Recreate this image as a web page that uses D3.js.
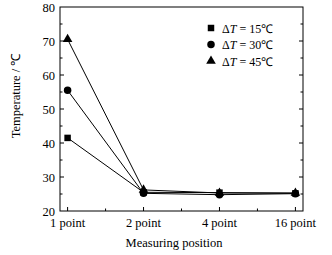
<!DOCTYPE html>
<html lang="en">
<head>
<meta charset="UTF-8">
<title>Temperature vs measuring position</title>
<script src="https://d3js.org/d3.v7.min.js"></script>
<style>
  body { margin: 0; background: #fff; }
  svg { display: block; font-family: "Liberation Serif", "Times New Roman", serif; }
</style>
</head>
<body>
<svg id="chart" width="332" height="255"></svg>
<script>
// data
const positions = ["1 point", "2 point", "4 point", "16 point"];
const dT15 = [41.5, 25.5, 25.4, 25.2];
const dT30 = [55.5, 25.2, 24.8, 25.1];
const dT45 = [70.5, 26.2, 25.3, 25.3];
const yTicks = [20, 30, 40, 50, 60, 70, 80];
const seriesNames = ["15", "30", "45"];

const svg = d3.select("#chart");
const plotL = 60, plotR = 303, plotT = 7, plotB = 211;

const x = d3.scalePoint().domain(positions).range([plotL, plotR]).padding(0.1);
const y = d3.scaleLinear().domain([20, 80]).range([plotB, plotT]);

// frame
svg.append("rect")
   .attr("x", plotL).attr("y", plotT)
   .attr("width", plotR - plotL).attr("height", plotB - plotT)
   .attr("fill", "none").attr("stroke", "#000").attr("stroke-width", 1);

// y ticks, left and right, inward, minor every 5
const minorY = d3.range(25, 80, 10);
const g = svg.append("g").attr("stroke", "#000").attr("stroke-width", 1);
yTicks.slice(1, -1).forEach(v => {
  g.append("line").attr("x1", plotL).attr("x2", plotL + 4).attr("y1", y(v)).attr("y2", y(v));
  g.append("line").attr("x1", plotR).attr("x2", plotR - 4).attr("y1", y(v)).attr("y2", y(v));
});
minorY.forEach(v => {
  g.append("line").attr("x1", plotL).attr("x2", plotL + 2.5).attr("y1", y(v)).attr("y2", y(v));
  g.append("line").attr("x1", plotR).attr("x2", plotR - 2.5).attr("y1", y(v)).attr("y2", y(v));
});

// x ticks at categories and between them
const xs = positions.map(p => x(p));
xs.forEach(px => g.append("line").attr("x1", px).attr("x2", px).attr("y1", plotB).attr("y2", plotB - 4));
d3.pairs(xs).forEach(([a, b]) => {
  const m = (a + b) / 2;
  g.append("line").attr("x1", m).attr("x2", m).attr("y1", plotB).attr("y2", plotB - 2.5);
});

// tick labels
svg.append("g").selectAll("text").data(yTicks).join("text")
   .attr("x", plotL - 5).attr("y", d => y(d) + 4.5)
   .attr("text-anchor", "end").attr("font-size", 12.5).text(d => d);

svg.append("g").selectAll("text").data(positions).join("text")
   .attr("x", d => x(d)).attr("y", 227)
   .attr("text-anchor", "middle").attr("font-size", 12.5).text(d => d);

// axis titles
svg.append("text").attr("x", 174).attr("y", 247)
   .attr("text-anchor", "middle").attr("font-size", 12.5).text("Measuring position");
svg.append("text")
   .attr("transform", "translate(20,96) rotate(-90)")
   .attr("text-anchor", "middle").attr("font-size", 12.5).text("Temperature / \u2103");

// series
const line = d3.line().x((d, i) => x(positions[i])).y(d => y(d));
const series = [
  {name: seriesNames[0], values: dT15, shape: d3.symbolSquare, size: 42},
  {name: seriesNames[1], values: dT30, shape: d3.symbolCircle, size: 44},
  {name: seriesNames[2], values: dT45, shape: d3.symbolTriangle, size: 40}
];

series.forEach(s => {
  svg.append("path").datum(s.values)
     .attr("fill", "none").attr("stroke", "#000").attr("stroke-width", 1)
     .attr("d", line);
  svg.append("g").selectAll("path").data(s.values).join("path")
     .attr("transform", (d, i) => `translate(${x(positions[i])},${y(d)})`)
     .attr("d", d3.symbol().type(s.shape).size(s.size))
     .attr("fill", "#000");
});

// legend
const legend = svg.append("g").attr("font-size", 12);
series.forEach((s, i) => {
  const ly = 28 + i * 16.5;
  legend.append("path")
        .attr("transform", `translate(211,${ly})`)
        .attr("d", d3.symbol().type(s.shape).size(s.size))
        .attr("fill", "#000");
  const t = legend.append("text").attr("x", 222).attr("y", ly + 4.5);
  t.append("tspan").text("\u0394");
  t.append("tspan").attr("font-style", "italic").text("T");
  t.append("tspan").text(" = " + s.name + "\u2103");
});
</script>
</body>
</html>
